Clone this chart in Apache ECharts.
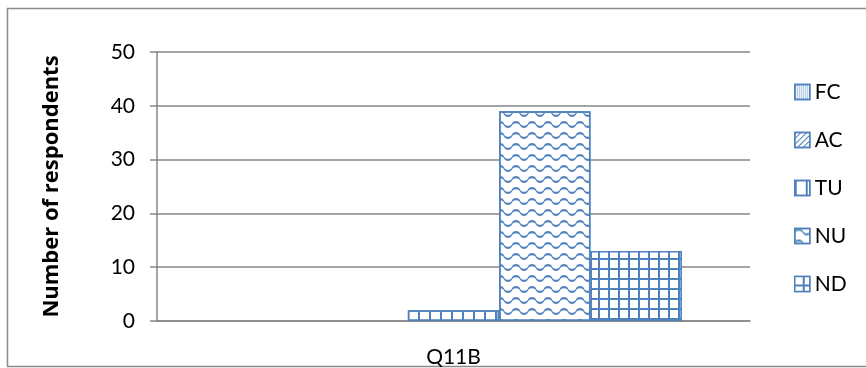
<!DOCTYPE html>
<html>
<head>
<meta charset="utf-8">
<script src="https://cdn.jsdelivr.net/npm/echarts@6/dist/echarts.min.js"></script>
<style>
html,body{margin:0;padding:0;background:#fff;}
#chart{width:866px;height:368px;}
</style>
</head>
<body>
<div id="chart"></div>
<script>
const categories = ['Q11B'];
const seriesNames = ['FC', 'AC', 'TU', 'NU', 'ND'];
const valuesFC = [0];
const valuesAC = [0];
const valuesTU = [2];
const valuesNU = [39];
const valuesND = [13];
const yTicks = [0, 10, 20, 30, 40, 50];
const yTitle = 'Number of respondents';

const BLUE = '#4F81BD';
const FONT = 'Lato';
const wave = 'path://M0 4 C1.5 1 6.5 1 8 4 C9.5 7 14.5 7 16 4 L16 6 C14.5 9 9.5 9 8 6 C6.5 3 1.5 3 0 6 Z';

function decal(o) {
  return Object.assign({
    symbol: 'rect', symbolSize: 1, symbolKeepAspect: false,
    color: BLUE, backgroundColor: null,
    dashArrayX: 5, dashArrayY: 5, rotation: 0,
    maxTileWidth: 512, maxTileHeight: 512
  }, o);
}

const decals = {
  FC: decal({ symbol: 'rect', dashArrayX: [1, 1], dashArrayY: [1, 1] }),
  AC: decal({ dashArrayX: [1, 0], dashArrayY: [1, 3], rotation: -Math.PI / 4 }),
  TU: decal({ dashArrayX: [2, 8.4], dashArrayY: [1, 0] }),
  NU: decal({ symbol: wave, dashArrayX: [15.5, 0], dashArrayY: [7, 3.5] }),
  ND: decal({ color: '#ffffff', backgroundColor: BLUE, dashArrayX: [8, 2], dashArrayY: [8, 2] })
};
const dataMap = { FC: valuesFC, AC: valuesAC, TU: valuesTU, NU: valuesNU, ND: valuesND };

const series = seriesNames.map(n => ({
  name: n,
  type: 'bar',
  data: dataMap[n].map(v => v === 0 ? { value: v, itemStyle: { borderWidth: 0 } } : v),
  barGap: '0%',
  barCategoryGap: '23%',
  itemStyle: { color: '#ffffff', borderColor: BLUE, borderWidth: 1.5, decal: decals[n] },
  emphasis: { disabled: true }
}));

const chart = echarts.init(document.getElementById('chart'), null, { renderer: 'canvas' });
chart.setOption({
  animation: false,
  backgroundColor: '#ffffff',
  graphic: [{
    type: 'rect', silent: true, z: -1,
    shape: { x: 7.5, y: 8.5, width: 880, height: 358 },
    style: { fill: 'none', stroke: '#8c8c8c', lineWidth: 1.5 }
  }],
  grid: { left: 157, right: 116, top: 52, bottom: 46, containLabel: false },
  legend: {
    orient: 'vertical', left: 794, top: 80, padding: 0,
    icon: 'rect',
    itemWidth: 15, itemHeight: 15, itemGap: 24,
    data: seriesNames,
    itemStyle: { borderColor: BLUE, borderWidth: 1.5 },
    textStyle: { fontFamily: FONT, fontSize: 21, color: '#000', lineHeight: 24 }
  },
  xAxis: {
    type: 'category', data: categories,
    axisLine: { show: true, lineStyle: { color: '#868686', width: 1.5 } },
    axisTick: { show: false },
    axisLabel: { fontFamily: FONT, fontSize: 21, color: '#000', margin: 26 }
  },
  yAxis: {
    type: 'value', min: yTicks[0], max: yTicks[yTicks.length - 1], interval: 10,
    name: yTitle, nameLocation: 'middle', nameRotate: 90, nameGap: 94,
    nameTextStyle: { fontFamily: 'Open Sans', fontSize: 22, fontWeight: 'bold', color: '#000' },
    axisLine: { show: true, lineStyle: { color: '#868686', width: 1.5 } },
    axisTick: { show: true, length: 7, lineStyle: { color: '#868686', width: 1.5 } },
    axisLabel: { fontFamily: FONT, fontSize: 21, color: '#000', margin: 22 },
    splitLine: { show: true, lineStyle: { color: '#868686', width: 1.5 } }
  },
  series: series
});
</script>
</body>
</html>
